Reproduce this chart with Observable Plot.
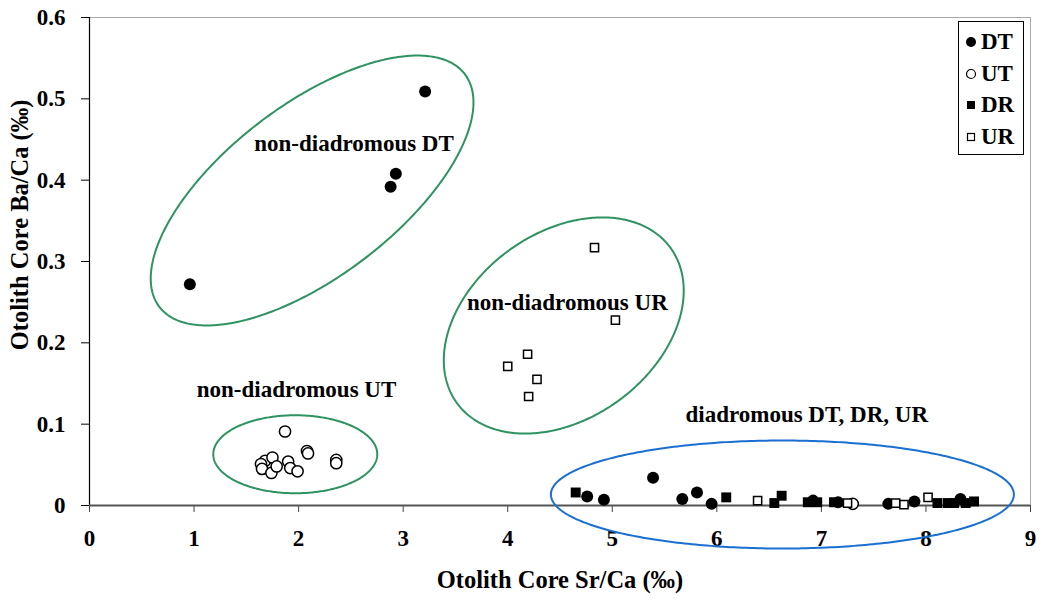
<!DOCTYPE html>
<html><head><meta charset="utf-8">
<script src="https://cdn.jsdelivr.net/npm/d3@7"></script>
<script src="https://cdn.jsdelivr.net/npm/@observablehq/plot@0.6"></script>
<style>
body{margin:0;background:#fff;font-family:"Liberation Serif","Times New Roman",serif;}
#wrap{position:relative;width:1042px;height:601px;overflow:hidden;}
#legend{position:absolute;left:958px;top:21px;width:66px;height:134px;border:1.5px solid #000;background:#fff;box-sizing:border-box;}
.row{position:absolute;left:0;height:30px;display:flex;align-items:center;font-weight:bold;font-size:23px;color:#000;}
.row svg{margin-left:6px;margin-right:4px;}
</style></head>
<body><div id="wrap"><div id="legend"></div></div>
<script>
// ---- data ----
const dtX = [0.96, 2.88, 2.93, 3.21, 4.76, 4.92, 5.39, 5.67, 5.81, 5.95, 6.92, 7.16, 7.64, 7.89, 8.33];
const dtY = [0.272, 0.392, 0.408, 0.509, 0.011, 0.007, 0.034, 0.008, 0.016, 0.002, 0.006, 0.004, 0.002, 0.005, 0.008];
const utX = [1.87, 2.08, 2.09, 2.36, 2.36, 1.68, 1.64, 1.65, 1.75, 1.74, 1.79, 1.90, 1.92, 1.99, 7.30];
const utY = [0.091, 0.067, 0.064, 0.056, 0.052, 0.055, 0.051, 0.045, 0.059, 0.040, 0.048, 0.054, 0.046, 0.042, 0.002];
const drX = [4.65, 6.09, 6.55, 6.62, 6.87, 6.96, 7.12, 8.11, 8.21, 8.27, 8.38, 8.46];
const drY = [0.016, 0.010, 0.003, 0.012, 0.004, 0.004, 0.004, 0.003, 0.003, 0.003, 0.003, 0.005];
const urX = [4.83, 5.03, 4.19, 4.00, 4.28, 4.20, 6.39, 7.25, 7.71, 7.79, 8.02];
const urY = [0.317, 0.228, 0.186, 0.171, 0.155, 0.134, 0.006, 0.003, 0.003, 0.001, 0.010];
const xTicks = [0, 1, 2, 3, 4, 5, 6, 7, 8, 9];
const yTicks = [0, 0.1, 0.2, 0.3, 0.4, 0.5, 0.6];
const seriesNames = ["DT", "UT", "DR", "UR"];
const groupLabels = ["non-diadromous DT", "non-diadromous UR", "non-diadromous UT", "diadromous DT, DR, UR"];
const xLabel = "Otolith Core Sr/Ca (‰)";
const yLabel = "Otolith Core Ba/Ca (‰)";

// ---- layout ----
const W = 1042, H = 601, mL = 89, mR = 12, mT = 17, mB = 96;
const kx = (W - mL - mR) / 9;     // px per x unit
const ky = (H - mT - mB) / 0.6;   // px per y unit

const zip = (xs, ys) => xs.map((x, i) => ({x, y: ys[i]}));
const DT = zip(dtX, dtY), UT = zip(utX, utY), DR = zip(drX, drY), UR = zip(urX, urY);

// group annotations: label anchors (data units) and encircling ellipses
const labelPos = [[2.53, 0.445], [4.57, 0.250], [1.98, 0.143], [6.86, 0.112]];
const annot = groupLabels.map((t, i) => ({text: t, x: labelPos[i][0], y: labelPos[i][1]}));
const ellipses = [
  {cx: 2.129, cy: 0.3873, a: 192, b: 86, deg: 37.3, color: "#2e9360"},
  {cx: 4.536, cy: 0.2213, a: 132, b: 93, deg: 36, color: "#2e9360"},
  {cx: 1.968, cy: 0.0630, a: 82, b: 39, deg: 0, color: "#2e9360"},
  {cx: 6.627, cy: 0.0135, a: 231.5, b: 54, deg: 0, color: "#1a6fd1"}
];
function ellipsePts(e) {
  const th = e.deg * Math.PI / 180, pts = [];
  for (let i = 0; i <= 360; i++) {
    const t = i * Math.PI / 180;
    const px = e.a * Math.cos(t), py = e.b * Math.sin(t);
    const dx = px * Math.cos(th) - py * Math.sin(th);
    const dy = px * Math.sin(th) + py * Math.cos(th);
    pts.push({x: e.cx + dx / kx, y: e.cy + dy / ky});
  }
  return pts;
}
// axis title anchors (data units, outside the frame)
const yTitlePos = {x: -69 / kx, y: 0.345};

const font = {fontFamily: "Liberation Serif", fontWeight: "bold"};
const chart = Plot.plot({
  width: W, height: H, marginLeft: mL, marginRight: mR, marginTop: mT, marginBottom: mB,
  x: {domain: [0, 9]}, y: {domain: [0, 0.6]},
  style: {fontFamily: "Liberation Serif", background: "transparent", color: "#000"},
  marks: [
    Plot.frame({stroke: "#a8a8a8"}),
    Plot.axisX({ticks: xTicks, tickSize: 7, tickPadding: 17, fontSize: 23, fontWeight: "bold", label: null, tickFormat: d => String(d), stroke: "#444"}),
    Plot.axisY({ticks: yTicks, tickSize: 8, tickPadding: 16, fontSize: 23, fontWeight: "bold", label: null, tickFormat: d => d === 0 ? "0" : d.toFixed(1), stroke: "#000"}),
    Plot.ruleX([0], {stroke: "#000", strokeWidth: 1.2}),
    Plot.ruleY([0], {stroke: "#555", strokeWidth: 2}),
    Plot.dot(DT, {x: "x", y: "y", r: 6, fill: "#000", symbol: "circle"}),
    Plot.dot(UT, {x: "x", y: "y", r: 5.6, fill: "#fff", stroke: "#000", strokeWidth: 1.5, symbol: "circle"}),
    Plot.dot(DR, {x: "x", y: "y", r: 5.6, fill: "#000", symbol: "square"}),
    Plot.dot(UR, {x: "x", y: "y", r: 4.6, fill: "#fff", stroke: "#000", strokeWidth: 1.5, symbol: "square"}),
    ...ellipses.map(e => Plot.line(ellipsePts(e), {x: "x", y: "y", stroke: e.color, strokeWidth: 2})),
    Plot.text(annot, {x: "x", y: "y", text: "text", fontSize: 23, ...font, fill: "#000"}),
    Plot.text([xLabel], {frameAnchor: "bottom", dy: 82, fontSize: 24.5, ...font, fill: "#000"}),
    Plot.text([yLabel], {x: () => yTitlePos.x, y: () => yTitlePos.y, rotate: -90, fontSize: 24.5, ...font, fill: "#000", clip: false})
  ]
});
chart.style.position = "absolute";
chart.style.left = "0px";
chart.style.top = "0px";
const wrap = document.getElementById("wrap");
wrap.insertBefore(chart, wrap.firstChild);

// legend
const legend = document.getElementById("legend");
const markers = [
  '<circle cx="6" cy="6" r="5" fill="#000"/>',
  '<circle cx="6" cy="6" r="4.5" fill="#fff" stroke="#000" stroke-width="1.2"/>',
  '<rect x="2" y="2" width="8" height="8" fill="#000"/>',
  '<rect x="2.5" y="2.5" width="7" height="7" fill="#fff" stroke="#000" stroke-width="1.2"/>'
];
seriesNames.forEach((name, i) => {
  const row = document.createElement("div");
  row.className = "row";
  row.style.top = (5 + i * 31.5) + "px";
  row.innerHTML = '<svg width="12" height="12">' + markers[i] + '</svg><span>' + name + '</span>';
  legend.appendChild(row);
});
</script>
</body></html>
